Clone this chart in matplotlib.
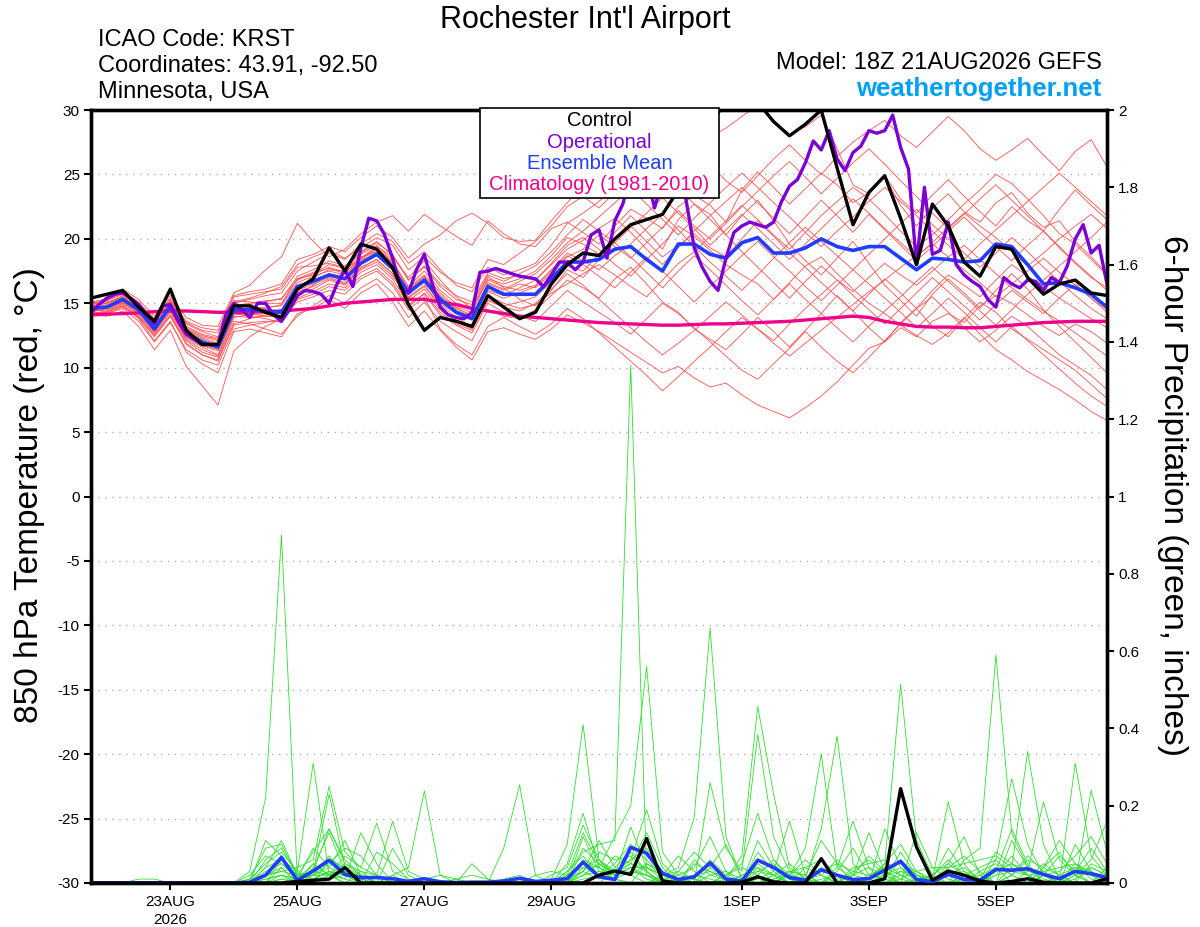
import numpy as np
import matplotlib
matplotlib.use("Agg")
import matplotlib.pyplot as plt
from matplotlib.patches import Rectangle
from matplotlib.ticker import FormatStrFormatter

plt.rcParams['font.family'] = ['Liberation Sans', 'DejaVu Sans']
plt.rcParams['axes.unicode_minus'] = False

# forecast steps: 6-hourly from 18Z 21AUG2026 (hour 0) to hour 384
tick_hours = [30, 78, 126, 174, 246, 294, 342]
tick_labels = ["23AUG\n2026", "25AUG", "27AUG", "29AUG", "1SEP", "3SEP", "5SEP"]

# 850 hPa temperature (C)
t_mean = [14.6, 14.7, 15.3, 14.5, 13.0, 14.8, 12.7, 12.0, 11.6, 14.5, 14.5, 14.4, 14.3,
          16.3, 16.7, 17.2, 16.9, 18.1, 18.8, 17.7, 15.8, 16.8, 15.3, 14.3, 13.8, 16.3,
          15.7, 15.7, 15.7, 16.9, 18.2, 18.2, 18.4, 19.2, 19.4, 18.4, 17.5, 19.6, 19.6,
          18.8, 18.5, 19.7, 20.1, 18.9, 18.9, 19.3, 20.0, 19.4, 19.1, 19.4, 19.4, 18.5,
          17.6, 18.5, 18.4, 18.2, 18.3, 19.6, 19.4, 18.0, 16.5, 16.6, 16.2, 15.7, 14.7]
t_control = [15.4, 15.7, 16.0, 14.7, 13.6, 16.1, 12.9, 11.8, 11.8, 14.8, 14.8, 14.3, 13.9,
             16.1, 16.9, 19.3, 17.5, 19.6, 19.2, 17.8, 14.9, 12.9, 13.9, 13.6, 13.2, 15.6,
             14.7, 13.8, 14.3, 16.5, 18.0, 18.9, 18.7, 20.0, 21.1, 21.5, 21.9, 23.8, 26.0,
             28.5, 31.0, 32.0, 30.6, 29.1, 28.0, 28.9, 30.0, 25.5, 21.1, 23.6, 24.9, 21.6,
             18.0, 22.7, 21.0, 18.2, 17.1, 19.4, 19.2, 17.0, 15.7, 16.5, 16.8, 15.8, 15.6]
t_clim = [14.1, 14.15, 14.2, 14.25, 14.35, 14.4, 14.4, 14.35, 14.3, 14.3, 14.3, 14.35, 14.4,
          14.5, 14.6, 14.8, 15.0, 15.1, 15.2, 15.3, 15.3, 15.3, 15.1, 14.9, 14.6, 14.4,
          14.2, 14.0, 13.9, 13.8, 13.7, 13.6, 13.5, 13.45, 13.4, 13.35, 13.3, 13.3, 13.35,
          13.4, 13.4, 13.45, 13.5, 13.55, 13.6, 13.7, 13.8, 13.9, 14.0, 13.9, 13.6, 13.4,
          13.2, 13.15, 13.15, 13.1, 13.1, 13.2, 13.3, 13.4, 13.5, 13.55, 13.6, 13.6, 13.6]
# operational run is 3-hourly
t_oper = [14.3, 14.9, 15.4, 15.7, 15.8, 15.4, 14.9, 14.1, 13.4, 14.8,
          14.9, 13.6, 12.6, 12.2, 11.8, 11.8, 11.8, 14.1, 15.0, 14.5,
          13.9, 15.0, 15.0, 14.1, 13.6, 14.5, 15.6, 16.0, 15.9, 15.7,
          15.0, 16.5, 17.6, 16.3, 19.3, 21.6, 21.4, 20.3, 18.5, 16.2,
          15.8, 17.6, 18.8, 16.5, 14.7, 14.1, 13.9, 13.8, 14.3, 17.4,
          17.5, 17.7, 17.5, 17.3, 17.1, 17.0, 16.9, 16.3, 17.2, 18.2,
          18.2, 17.6, 18.2, 20.3, 20.7, 18.5, 21.4, 22.7, 25.0, 26.5,
          25.0, 22.4, 24.5, 26.5, 27.0, 22.9, 19.3, 17.8, 16.7, 16.0,
          18.5, 20.5, 21.0, 21.3, 21.1, 20.9, 21.3, 22.9, 24.1, 24.6,
          25.9, 27.6, 26.9, 28.4, 26.2, 25.3, 26.7, 27.2, 28.4, 28.2,
          28.4, 29.6, 27.1, 25.4, 18.0, 24.0, 18.8, 19.1, 21.3, 18.0,
          17.2, 16.7, 16.3, 15.3, 14.7, 17.0, 16.5, 16.2, 16.8, 16.7,
          16.0, 17.0, 16.6, 17.9, 20.0, 21.1, 18.9, 19.5, 16.5]

# ensemble members, temperature
t_m01 = [14.8, 15.0, 15.6, 14.9, 13.5, 15.2, 13.4, 12.8, 12.4, 15.0, 15.3, 15.6, 15.8,
         17.5, 18.2, 18.9, 18.4, 19.6, 20.4, 19.8, 18.1, 19.0, 17.6, 16.4, 15.9, 17.8,
         17.2, 17.6, 18.1, 19.5, 21.2, 22.0, 22.9, 24.1, 25.0, 24.3, 23.1, 25.6, 26.8,
         27.9, 28.6, 29.5, 30.4, 29.2, 28.1, 28.7, 29.6, 27.0, 24.2, 23.5, 24.8, 22.6,
         21.0, 22.4, 23.5, 22.1, 21.3, 22.8, 23.6, 22.0, 20.9, 21.4, 19.8, 18.6, 17.3]
t_m02 = [14.2, 14.3, 14.9, 13.8, 12.1, 13.6, 11.2, 10.3, 9.6, 12.8, 13.0, 12.7, 12.4,
         14.2, 14.6, 15.3, 14.6, 15.8, 16.5, 15.1, 13.2, 14.4, 12.9, 11.6, 10.6, 12.8,
         13.1, 12.6, 12.2, 13.0, 14.1, 13.5, 12.8, 12.0, 11.2, 10.4, 9.6, 10.1, 9.2,
         8.5, 8.8, 7.9, 7.1, 6.6, 6.1, 6.9, 7.8, 8.9, 10.2, 11.5, 12.0, 13.1,
         12.4, 13.6, 14.2, 13.5, 14.8, 15.6, 15.0, 14.1, 13.2, 12.5, 13.4, 12.8, 11.9]
t_m03 = [14.1, 14.0, 14.4, 13.2, 11.4, 12.9, 10.1, 8.6, 7.1, 11.3, 12.4, 13.2, 13.8,
         15.6, 16.4, 17.3, 17.0, 18.5, 19.4, 18.6, 17.0, 18.3, 16.8, 15.5, 14.6, 17.1,
         16.2, 15.3, 14.8, 16.0, 17.6, 17.0, 18.4, 20.5, 21.8, 20.6, 19.2, 21.5, 22.7,
         21.9, 20.3, 21.8, 23.0, 21.4, 19.6, 18.3, 17.2, 18.5, 19.8, 18.1, 16.4, 15.2,
         14.0, 15.7, 16.9, 15.8, 14.6, 16.0, 17.3, 16.1, 14.5, 13.2, 12.0, 10.8, 9.6]
t_m04 = [15.0, 15.4, 16.1, 15.3, 14.0, 15.6, 13.9, 13.3, 13.2, 15.8, 16.4, 17.6, 18.6,
         21.2, 19.8, 18.6, 19.2, 20.4, 21.3, 21.8, 20.6, 21.9, 21.0, 20.2, 19.5, 21.4,
         20.4, 19.6, 19.4, 20.8, 21.3, 20.5, 19.6, 21.0, 22.3, 21.6, 20.8, 22.5, 23.4,
         22.6, 21.3, 23.8, 25.2, 24.0, 22.7, 23.9, 25.1, 24.2, 22.8, 23.6, 24.9, 23.1,
         22.0, 23.4, 24.6, 23.3, 22.1, 21.0, 22.5, 21.4, 20.6, 22.3, 23.8, 22.6, 21.5]
t_m05 = [14.5, 14.4, 14.8, 14.0, 12.6, 14.1, 12.1, 11.2, 10.8, 13.6, 13.4, 13.0, 12.6,
         14.0, 14.8, 15.6, 15.0, 16.2, 16.9, 15.8, 13.9, 15.1, 13.6, 12.8, 12.1, 14.5,
         14.0, 13.8, 14.5, 15.6, 16.8, 16.2, 15.4, 16.9, 17.8, 16.5, 15.1, 14.3, 13.0,
         12.2, 11.4, 12.6, 13.9, 12.8, 11.6, 12.9, 14.2, 15.6, 14.4, 13.1, 12.0, 13.5,
         14.6, 13.2, 12.4, 13.8, 15.1, 14.3, 13.0, 12.2, 11.4, 10.6, 9.8, 8.7, 7.6]
t_m06 = [14.9, 15.1, 15.4, 14.7, 13.3, 15.0, 13.0, 12.4, 12.1, 14.9, 14.7, 14.6, 14.9,
         16.9, 17.4, 17.7, 17.3, 18.6, 19.0, 17.9, 15.9, 16.6, 15.0, 14.2, 13.9, 16.0,
         15.6, 16.2, 16.8, 18.1, 19.5, 20.1, 19.2, 18.0, 17.1, 18.4, 19.6, 21.0, 20.2,
         19.1, 18.0, 17.2, 16.5, 15.3, 16.6, 17.9, 18.6, 17.3, 16.1, 15.0, 14.2, 13.3,
         12.5, 11.8, 12.7, 13.9, 12.6, 11.4, 10.6, 9.7, 9.0, 8.3, 7.5, 6.6, 5.9]
t_m07 = [14.3, 14.6, 15.1, 14.2, 12.8, 14.4, 12.3, 11.6, 11.0, 14.1, 14.2, 14.0, 13.9,
         15.8, 16.1, 16.8, 16.4, 17.6, 18.2, 17.1, 15.4, 16.3, 14.9, 13.9, 13.2, 15.6,
         15.0, 14.6, 14.9, 15.8, 16.5, 17.3, 18.0, 17.2, 16.3, 15.5, 16.8, 18.1, 19.0,
         20.2, 21.4, 22.6, 21.5, 20.3, 19.2, 20.5, 21.8, 22.9, 24.0, 23.1, 21.9, 20.6,
         19.4, 20.3, 21.5, 22.7, 23.8, 25.0, 24.3, 23.1, 21.8, 20.4, 19.6, 18.4, 17.2]
t_m08 = [14.0, 14.2, 14.7, 13.9, 12.5, 14.0, 11.9, 11.0, 10.6, 13.4, 13.8, 14.1, 14.5,
         16.2, 17.0, 17.6, 17.5, 18.8, 19.5, 18.3, 16.2, 17.2, 15.8, 14.7, 14.3, 16.9,
         16.5, 16.9, 17.5, 18.7, 20.1, 19.6, 18.8, 19.9, 21.0, 19.8, 18.6, 19.5, 20.4,
         19.3, 18.6, 20.0, 21.4, 20.2, 18.9, 17.8, 16.6, 15.5, 14.4, 15.7, 16.9, 15.8,
         14.6, 16.0, 17.2, 16.4, 15.5, 16.8, 18.0, 17.1, 16.3, 15.4, 14.6, 13.8, 13.1]
t_m09 = [14.6, 14.9, 15.5, 14.8, 13.4, 15.1, 13.1, 12.5, 12.2, 15.1, 15.4, 15.8, 16.3,
         18.0, 18.6, 19.1, 18.5, 19.3, 20.1, 19.5, 17.6, 18.6, 17.4, 16.6, 16.2, 18.4,
         18.0, 18.9, 19.8, 21.0, 22.5, 23.3, 22.4, 23.6, 24.8, 25.9, 24.6, 25.5, 26.9,
         25.8, 24.5, 23.6, 24.9, 26.2, 27.3, 26.1, 25.0, 26.4, 27.5, 28.4, 29.2, 28.0,
         27.1, 28.3, 29.5, 28.4, 27.0, 26.1, 26.9, 27.8, 26.5, 25.3, 26.8, 27.7, 25.6]
t_m10 = [14.4, 14.5, 15.0, 14.3, 12.9, 14.6, 12.5, 11.8, 11.4, 14.2, 14.0, 13.8, 13.5,
         15.4, 15.9, 16.5, 16.2, 17.4, 18.0, 16.9, 14.9, 15.7, 14.1, 13.3, 12.7, 15.0,
         14.3, 14.0, 13.6, 14.8, 16.0, 15.1, 14.3, 13.5, 12.6, 13.8, 15.0, 14.2, 13.1,
         12.0, 10.9, 9.8, 9.1, 10.3, 11.5, 12.8, 11.6, 10.5, 9.6, 10.8, 12.1, 13.4,
         14.6, 15.5, 14.3, 13.1, 12.0, 12.9, 14.0, 13.2, 12.1, 11.0, 10.2, 9.4, 8.3]
t_m11 = [15.1, 15.3, 15.8, 15.0, 13.8, 15.3, 13.5, 12.9, 12.7, 15.5, 15.7, 15.9, 16.1,
         17.8, 17.9, 18.1, 17.8, 18.9, 19.7, 18.8, 16.8, 17.9, 16.5, 15.6, 15.1, 17.4,
         16.9, 17.2, 16.8, 18.0, 19.2, 19.9, 20.8, 21.6, 20.5, 19.2, 18.0, 19.3, 20.6,
         21.8, 22.9, 24.0, 22.8, 21.6, 20.4, 21.7, 23.0, 21.8, 20.5, 21.9, 20.7, 19.5,
         18.3, 19.4, 20.6, 21.7, 20.5, 19.4, 18.3, 19.5, 20.6, 19.3, 18.1, 17.0, 16.2]
t_m12 = [14.3, 14.2, 14.6, 13.6, 12.0, 13.5, 11.4, 10.6, 10.2, 13.0, 13.3, 13.5, 13.8,
         15.1, 15.5, 16.0, 15.7, 16.9, 17.5, 16.4, 14.5, 15.5, 13.0, 11.8, 11.0, 13.2,
         13.9, 13.2, 12.6, 13.4, 14.6, 13.8, 12.7, 11.6, 10.5, 9.4, 8.2, 9.3, 10.5,
         11.6, 12.8, 13.9, 13.0, 12.1, 13.4, 14.6, 15.7, 16.8, 15.9, 17.0, 18.1, 17.2,
         16.4, 17.5, 18.6, 19.5, 18.4, 17.3, 16.2, 15.3, 14.4, 13.6, 12.7, 11.8, 10.9]
t_m13 = [14.7, 14.8, 15.2, 14.6, 13.1, 14.9, 12.8, 12.2, 11.8, 14.7, 14.9, 15.1, 15.4,
         16.8, 17.3, 18.0, 17.7, 18.4, 19.2, 18.1, 16.3, 17.5, 16.0, 15.0, 14.6, 16.8,
         16.3, 16.0, 16.4, 17.6, 18.9, 18.3, 17.6, 18.7, 19.6, 20.8, 21.9, 20.7, 19.4,
         18.2, 17.1, 16.0, 17.2, 18.5, 19.7, 20.9, 19.8, 18.7, 17.6, 18.8, 20.0, 21.2,
         22.3, 21.1, 20.0, 18.9, 17.8, 18.9, 20.1, 19.0, 17.8, 16.7, 15.6, 14.6, 13.8]
t_m14 = [14.9, 15.2, 15.9, 15.1, 13.7, 15.4, 13.6, 13.1, 12.9, 15.6, 15.9, 16.1, 16.5,
         18.4, 18.8, 19.4, 19.0, 20.1, 21.0, 20.1, 18.5, 19.6, 20.3, 21.4, 22.0, 21.2,
         20.1, 19.8, 19.9, 21.4, 22.8, 24.2, 25.1, 26.0, 27.3, 26.4, 25.2, 24.0, 22.7,
         21.5, 20.3, 19.0, 17.8, 16.6, 15.4, 16.7, 17.9, 16.8, 15.6, 14.5, 13.4, 14.6,
         15.8, 17.0, 15.9, 14.8, 13.7, 14.9, 16.0, 15.1, 14.2, 15.4, 16.5, 15.4, 14.3]
t_m15 = [14.2, 14.4, 15.0, 14.1, 12.7, 14.3, 12.2, 11.4, 10.9, 13.9, 14.1, 14.2, 14.2,
         16.0, 16.5, 17.0, 16.6, 17.8, 18.4, 17.3, 15.2, 16.1, 14.5, 13.6, 13.0, 15.3,
         14.8, 15.1, 15.5, 16.6, 17.9, 17.5, 18.8, 19.7, 18.6, 17.4, 16.2, 17.5, 18.7,
         17.6, 16.4, 15.2, 14.1, 15.3, 16.5, 15.3, 14.2, 13.1, 12.0, 13.2, 14.4, 15.5,
         16.7, 17.8, 16.7, 15.6, 14.4, 13.3, 14.5, 15.7, 16.8, 17.9, 19.0, 20.1, 21.3]
t_m16 = [14.6, 14.7, 15.3, 14.5, 13.0, 14.8, 12.6, 11.9, 11.5, 14.4, 14.6, 14.7, 14.8,
         16.6, 17.1, 17.5, 17.2, 18.3, 19.0, 17.9, 16.0, 17.0, 15.6, 14.6, 14.1, 16.5,
         16.0, 16.5, 16.2, 17.3, 18.6, 19.2, 20.3, 19.4, 18.5, 19.7, 20.9, 22.2, 21.0,
         20.0, 21.2, 22.5, 23.7, 24.9, 26.0, 24.8, 23.5, 24.7, 25.9, 27.0, 25.8, 24.5,
         23.3, 22.0, 20.8, 21.9, 23.1, 24.2, 23.0, 21.8, 20.6, 19.4, 18.2, 17.1, 16.0]
t_m17 = [14.5, 14.6, 15.1, 14.4, 12.9, 14.5, 12.4, 11.7, 11.3, 14.0, 13.9, 14.0, 14.1,
         15.9, 16.3, 16.9, 16.5, 17.7, 18.4, 17.3, 15.5, 16.4, 14.7, 13.7, 13.3, 15.9,
         15.4, 15.8, 16.3, 17.5, 18.7, 18.0, 17.1, 16.2, 17.4, 18.6, 17.5, 16.3, 15.1,
         16.3, 17.5, 18.7, 19.8, 18.6, 17.5, 16.3, 15.2, 16.4, 17.6, 16.5, 15.4, 14.3,
         13.1, 14.2, 15.4, 14.3, 13.1, 12.0, 13.2, 12.1, 11.0, 9.9, 8.8, 7.8, 7.0]
t_m18 = [14.8, 15.0, 15.5, 14.6, 13.2, 14.9, 12.9, 12.3, 11.9, 14.8, 15.0, 15.2, 15.3,
         17.1, 17.6, 18.3, 17.9, 19.0, 19.8, 18.7, 16.8, 17.8, 16.3, 15.3, 14.9, 17.2,
         16.7, 17.3, 17.9, 19.0, 20.3, 21.5, 20.6, 19.7, 20.9, 22.0, 23.2, 22.0, 20.8,
         19.5, 20.7, 21.9, 20.8, 19.6, 18.4, 19.6, 20.8, 22.0, 23.1, 22.0, 20.8, 19.7,
         18.6, 19.7, 20.9, 22.0, 21.0, 20.1, 19.0, 17.9, 18.9, 20.0, 21.0, 21.9, 20.8]
t_m19 = [14.1, 14.3, 14.8, 13.9, 12.4, 14.0, 11.8, 11.0, 10.5, 13.3, 13.5, 13.6, 13.6,
         15.3, 15.7, 16.3, 16.0, 17.1, 17.7, 16.6, 14.7, 15.8, 14.3, 13.4, 12.9, 15.2,
         14.7, 14.4, 15.0, 16.1, 17.3, 16.4, 15.3, 14.2, 13.1, 12.0, 11.0, 11.9, 12.9,
         14.0, 15.1, 14.1, 13.0, 11.9, 10.9, 11.9, 12.9, 13.9, 14.9, 15.9, 16.8, 17.8,
         18.7, 19.6, 18.6, 17.6, 16.6, 15.5, 16.5, 17.5, 18.5, 17.4, 16.4, 15.4, 14.5]
t_m20 = [15.0, 15.2, 15.7, 14.9, 13.6, 15.1, 13.2, 12.6, 12.3, 15.2, 15.1, 15.0, 15.0,
         16.9, 17.2, 17.8, 17.4, 18.5, 19.3, 18.2, 16.1, 17.1, 15.5, 14.5, 14.0, 16.6,
         16.1, 16.7, 17.3, 18.4, 19.7, 20.6, 21.7, 22.8, 23.9, 22.7, 21.5, 20.3, 21.6,
         22.8, 24.0, 25.1, 24.0, 22.8, 21.7, 20.5, 19.4, 20.6, 21.7, 22.9, 24.0, 22.9,
         21.8, 20.6, 19.5, 18.4, 19.6, 20.7, 21.8, 22.9, 24.0, 25.1, 24.0, 22.9, 21.8]

# 6-hour precipitation (inches)
p_mean = [0, 0, 0, 0, 0, 0, 0, 0, 0, 0, .002, .02, .066,
          .007, .031, .059, .022, .014, .014, .011, .004, .011, .003, .001, .002, .002,
          .005, .012, .004, .007, .011, .054, .016, .009, .092, .077, .025, .009, .016,
          .052, .010, .005, .059, .040, .014, .007, .034, .020, .009, .011, .033, .056,
          .009, .003, .022, .009, .007, .035, .033, .037, .022, .011, .030, .024, .014]
p_control = [0, 0, 0, 0, 0, 0, 0, 0, 0, 0, 0, 0, 0,
             .004, .007, .010, .040, 0, 0, 0, 0, 0, 0, 0, 0, 0,
             0, 0, 0, 0, 0, 0, .020, .031, .022, .115, .005, 0, 0,
             0, 0, .002, .016, .003, 0, 0, .063, 0, 0, 0, .011, .244,
             .093, .007, .031, .020, .005, 0, .004, .011, .002, 0, 0, 0, .011]

p_m01 = [0, 0, 0, 0, 0, 0, 0, 0, 0, 0, .03, .22, .90,
         .01, .05, .02, 0, 0, 0, 0, 0, 0, 0, 0, 0, 0,
         0, 0, 0, 0, .02, .13, .05, .02, .04, .01, 0, 0, .02,
         .05, .01, 0, .03, .05, .01, 0, 0, .02, 0, 0, .01, .06,
         .02, 0, 0, 0, 0, .03, .05, .02, 0, 0, .01, .04, .02]
p_m02 = [0, 0, 0, 0, 0, 0, 0, 0, 0, 0, .01, .09, .10,
         .02, .08, .14, .06, .02, 0, 0, 0, 0, 0, 0, 0, 0,
         .01, .02, 0, 0, .03, .08, .10, .11, 1.34, .02, 0, 0, 0,
         0, .02, .05, .18, .06, .01, 0, 0, 0, .03, .06, .02, 0,
         0, 0, .05, .12, .02, 0, 0, 0, .02, .07, .03, 0, 0]
p_m03 = [0, 0, 0, 0, 0, 0, 0, 0, 0, 0, 0, .11, .07,
         .01, .03, .23, .04, .01, 0, .02, 0, 0, 0, 0, 0, 0,
         0, 0, 0, 0, 0, .06, .04, .12, .20, .56, .08, .02, .01,
         0, 0, 0, .04, 0, 0, .02, .11, .05, 0, 0, 0, .01,
         .03, .01, 0, 0, 0, .06, .27, .10, .02, 0, 0, 0, 0]
p_m04 = [0, 0, 0, 0, 0, 0, 0, 0, 0, 0, 0, 0, .06,
         .03, .31, .02, .01, .13, .05, 0, 0, 0, 0, 0, 0, 0,
         0, 0, 0, 0, .05, .18, .04, .01, 0, 0, .02, .04, .17,
         .66, .12, .01, 0, 0, .02, .06, .02, 0, 0, 0, .14, .04,
         0, 0, .02, .04, .01, 0, 0, .03, .21, .06, .02, 0, 0]
p_m05 = [0, 0, 0, 0, 0, 0, 0, 0, 0, 0, 0, .02, .03,
         .04, .06, .25, .08, .04, .155, .03, .01, 0, 0, 0, 0, 0,
         0, 0, 0, 0, 0, 0, 0, .03, .06, .19, .05, .01, 0,
         0, .01, .07, .457, .23, .04, .01, 0, 0, .02, .13, .03, 0,
         0, .01, .21, .05, 0, 0, .02, .07, .03, 0, 0, .24, .08]
p_m06 = [0, 0, 0, 0, 0, 0, 0, 0, 0, 0, 0, .04, .11,
         .02, .02, .05, .09, .07, .02, .16, .03, .01, 0, 0, 0, 0,
         0, 0, 0, 0, .01, .03, .11, .04, .02, .05, .03, 0, 0,
         .26, .09, .03, .385, .12, .03, 0, 0, .04, .16, .04, 0, 0,
         .01, .02, .05, .02, 0, 0, 0, 0, .04, .11, .05, .01, 0]
p_m07 = [0, 0, 0, 0, 0, 0, 0, 0, 0, 0, .02, .07, .05,
         .01, 0, .06, .04, .02, 0, 0, 0, 0, 0, 0, .05, .01,
         0, 0, 0, 0, 0, .09, .05, .02, .145, .04, .01, 0, 0,
         0, 0, 0, 0, .02, .05, .01, .02, .06, .02, .01, .05, .514,
         .11, .02, 0, 0, .01, .08, .05, .02, 0, 0, .02, .06, .16]
p_m08 = [0, 0, 0, 0, 0, 0, 0, 0, 0, 0, 0, 0, .04,
         0, .04, .13, .03, 0, 0, 0, 0, 0, 0, 0, 0, 0,
         0, 0, .02, .03, .02, .05, .02, .07, .05, .03, 0, 0, .05,
         .03, .01, 0, 0, 0, .03, .02, 0, 0, .04, .05, .06, .02,
         0, 0, 0, .06, .09, .59, .13, .04, .01, 0, .05, .02, 0]
p_m09 = [0, 0, 0, 0, 0, 0, 0, 0, 0, 0, 0, .01, .02,
         0, .02, .04, .02, 0, 0, 0, 0, 0, 0, 0, 0, 0,
         0, 0, 0, .01, .10, .41, .06, .02, .03, .02, 0, .03, .08,
         .04, 0, 0, .01, .03, .16, .02, 0, 0, 0, .01, .02, .04,
         .01, 0, 0, 0, .03, .05, .02, 0, 0, .02, .04, .03, 0]
p_m10 = [0, 0, 0, 0, 0, 0, 0, 0, 0, 0, 0, 0, 0,
         .01, .09, .04, .11, .02, 0, 0, 0, 0, 0, 0, 0, 0,
         0, 0, 0, 0, .02, .04, .06, .03, .05, .13, .04, 0, 0,
         .04, .10, .01, 0, 0, .02, .09, .333, .04, .01, 0, 0, 0,
         0, .02, .06, .02, 0, .02, .07, .02, 0, 0, .31, .07, .02]
p_m11 = [0, 0, 0, 0, 0, 0, 0, 0, 0, 0, 0, .03, .05,
         .02, .01, .03, .02, 0, 0, 0, 0, .01, .02, .01, 0, 0,
         0, 0, 0, 0, 0, .02, .03, .01, 0, .05, .02, .07, .03,
         0, 0, 0, .02, .06, .02, .01, .14, .38, .05, .01, 0, .03,
         .02, 0, 0, 0, 0, 0, .04, .34, .10, .01, 0, 0, 0]
p_m12 = [0, 0, 0, 0, 0, 0, 0, 0, 0, 0, 0, 0, .01,
         .01, .02, .02, 0, .03, .02, 0, 0, 0, 0, 0, 0, 0,
         0, 0, 0, 0, 0, .01, .02, .01, .03, .02, 0, 0, 0,
         .02, .03, .01, 0, .01, .02, .01, .03, .05, .03, .02, .04, .05,
         .03, .04, .04, .05, .06, .07, .04, .02, .03, .04, .05, .03, .01]
p_m13 = [0, 0, 0, 0, 0, 0, 0, 0, 0, 0, .01, .05, .08,
         .03, .01, .03, .01, 0, 0, .02, .04, .238, .02, 0, 0, 0,
         0, 0, 0, 0, 0, .03, .01, .04, .08, .03, 0, .01, .02,
         .01, 0, 0, .05, .02, 0, 0, 0, .03, .09, .02, .01, 0,
         .13, .04, .01, 0, 0, .03, .14, .05, 0, 0, .10, .03, 0]
p_m14 = [0, 0, 0, 0, 0, 0, 0, 0, 0, 0, 0, .02, .04,
         0, .05, .02, .05, .02, 0, 0, 0, 0, 0, 0, 0, 0,
         .09, .254, .02, 0, 0, .04, .02, .03, .06, .09, .03, 0, .01,
         .06, .02, 0, .08, .03, 0, 0, .01, .02, 0, 0, .01, .08,
         .02, 0, 0, .01, .02, .04, 0, 0, .02, .03, .07, .12, .05]
p_m15 = [0, 0, 0, .01, .01, 0, 0, 0, 0, 0, 0, .06, .09,
         .02, .02, .07, .03, 0, .08, .05, .01, 0, 0, 0, 0, 0,
         0, 0, 0, 0, 0, .12, .03, .02, .04, .02, .01, 0, 0,
         0, 0, .02, .03, .02, 0, .04, .06, .02, 0, .02, .04, .02,
         0, .01, .02, .03, 0, 0, .02, .06, .04, .02, 0, 0, .04]
p_m16 = [0, 0, 0, 0, 0, 0, 0, 0, 0, 0, 0, .01, .02,
         .01, .03, .14, .05, .03, 0, .09, .02, 0, 0, 0, 0, 0,
         0, 0, 0, .02, .04, .15, .06, .02, .04, .04, .02, 0, .06,
         .02, .01, 0, .11, .04, .01, 0, 0, 0, .02, .04, .02, 0,
         0, .01, .09, .03, .01, 0, .11, .04, 0, 0, .04, .02, 0]
p_m17 = [0, 0, 0, 0, 0, 0, 0, 0, 0, 0, 0, 0, .02,
         .01, 0, .02, .03, .02, 0, 0, 0, 0, 0, 0, 0, 0,
         0, 0, 0, 0, 0, .02, .05, .03, .02, 0, .01, .02, .04,
         .12, .03, 0, 0, .01, .03, .02, 0, .01, .02, .07, .03, .01,
         0, 0, .03, .02, 0, .02, .03, .02, 0, .01, .03, .09, .03]
p_m18 = [0, 0, 0, 0, 0, 0, 0, 0, 0, 0, 0, .04, .06,
         .02, .03, .02, .07, .04, .02, 0, 0, 0, 0, 0, 0, 0,
         0, 0, 0, 0, .03, .07, .02, .05, .10, .06, .02, .01, 0,
         0, .02, .04, .02, 0, 0, .01, .04, .02, 0, 0, .02, .03,
         .01, 0, .04, .07, .03, 0, 0, .01, .05, .02, 0, .05, .03]
p_m19 = [0, 0, 0, 0, 0, 0, 0, 0, 0, 0, 0, 0, .01,
         0, .01, .03, .02, 0, 0, 0, 0, 0, 0, .01, .02, .01,
         0, 0, 0, 0, 0, .03, .08, .06, .07, .03, 0, 0, .02,
         .03, .01, 0, 0, .02, .03, .04, .02, 0, 0, .01, .05, .10,
         .03, 0, 0, .02, .04, .06, .02, 0, .04, .08, .02, 0, 0]
p_m20 = [0, 0, 0, 0, 0, 0, 0, 0, 0, 0, 0, .02, .03,
         .02, .02, .01, .02, .01, 0, .01, 0, 0, 0, 0, 0, 0,
         0, 0, 0, 0, .02, .05, .04, .02, .05, .04, .02, .03, .01,
         0, 0, .02, .04, .02, 0, 0, .03, .02, .01, 0, 0, .02,
         .02, .01, 0, .02, .01, .03, .05, .03, .02, 0, .02, .04, .02]

temp_members = [t_m01, t_m02, t_m03, t_m04, t_m05, t_m06, t_m07, t_m08, t_m09, t_m10,
                t_m11, t_m12, t_m13, t_m14, t_m15, t_m16, t_m17, t_m18, t_m19, t_m20]
precip_members = [p_m01, p_m02, p_m03, p_m04, p_m05, p_m06, p_m07, p_m08, p_m09, p_m10,
                  p_m11, p_m12, p_m13, p_m14, p_m15, p_m16, p_m17, p_m18, p_m19, p_m20]


def hours(series, step=6):
    return np.arange(len(series)) * step


fig = plt.figure(figsize=(12, 9.27), dpi=100)
ax = fig.add_axes([0.0758, 0.0475, 0.8467, 0.8338])
ax2 = ax.twinx()

# temperature plume
for m in temp_members:
    ax.plot(hours(m), m, color="#ff5050", lw=0.6, zorder=2)
ax.plot(hours(t_clim), t_clim, color="#f0008a", lw=2.4, zorder=3)
ax.plot(hours(t_mean), t_mean, color="#1f3cff", lw=2.6, zorder=4)
ax.plot(hours(t_oper, 3), t_oper, color="#7a00d6", lw=2.4, zorder=5)
ax.plot(hours(t_control), t_control, color="black", lw=2.4, zorder=6)

# precipitation plume
for m in precip_members:
    ax2.plot(hours(m), m, color="#2ee02e", lw=0.6, zorder=2)
ax2.plot(hours(p_mean), p_mean, color="#1f3cff", lw=2.6, zorder=4)
ax2.plot(hours(p_control), p_control, color="black", lw=2.4, zorder=5)

ax.set_xlim(0, 384)
ax.set_ylim(-30, 30)
ax2.set_ylim(0, 2)
ax.set_yticks(np.arange(-30, 31, 5))
ax2.set_yticks(np.arange(0, 2.01, 0.2))
ax2.yaxis.set_major_formatter(FormatStrFormatter('%g'))
ax.set_xticks(tick_hours)
ax.set_xticklabels(tick_labels, linespacing=1.3)

for g in range(-25, 30, 5):
    ax.axhline(g, color="#b0b0b0", lw=1.0, ls=(0, (1, 4)), zorder=1)

for a in (ax, ax2):
    for s in a.spines.values():
        s.set_linewidth(2.4)
ax.tick_params(axis='y', direction='out', length=5, width=1.5, labelsize=11, pad=3)
ax2.tick_params(axis='y', direction='out', length=5, width=1.5, labelsize=11, pad=3)
ax.tick_params(axis='x', direction='out', length=5, width=1.5, labelsize=11, pad=4)

# header texts
fig.text(0.4875, 0.978, "Rochester Int'l Airport", ha='center', va='center', fontsize=22)
fig.text(0.0817, 0.9569, "ICAO Code: KRST", ha='left', va='center', fontsize=17)
fig.text(0.0817, 0.9288, "Coordinates: 43.91, -92.50", ha='left', va='center', fontsize=17)
fig.text(0.0817, 0.9008, "Minnesota, USA", ha='left', va='center', fontsize=17)
fig.text(0.918, 0.932, "Model: 18Z 21AUG2026 GEFS", ha='right', va='center', fontsize=17)
fig.text(0.918, 0.904, "weathertogether.net", ha='right', va='center', fontsize=18.5,
         fontweight='bold', color="#00a0f5")

fig.text(0.025, 0.466, "850 hPa Temperature (red, \u00b0C)", rotation=90,
         ha='center', va='center', fontsize=24)
fig.text(0.9767, 0.466, "6-hour Precipitation (green, inches)", rotation=270,
         ha='center', va='center', fontsize=24)

# legend box
fig.add_artist(Rectangle((0.4, 0.7864), 0.1992, 0.0971, transform=fig.transFigure,
                         facecolor='white', edgecolor='black', lw=1.2, zorder=5))
legend_items = [("Control", "black"), ("Operational", "#7a00d6"),
                ("Ensemble Mean", "#1f3cff"), ("Climatology (1981-2010)", "#f0008a")]
for k, (lab, col) in enumerate(legend_items):
    fig.text(0.4996, 0.8695 - 0.0230 * k, lab, ha='center', va='center',
             fontsize=14.5, color=col, zorder=6)

fig.savefig("out.png", dpi=100)
